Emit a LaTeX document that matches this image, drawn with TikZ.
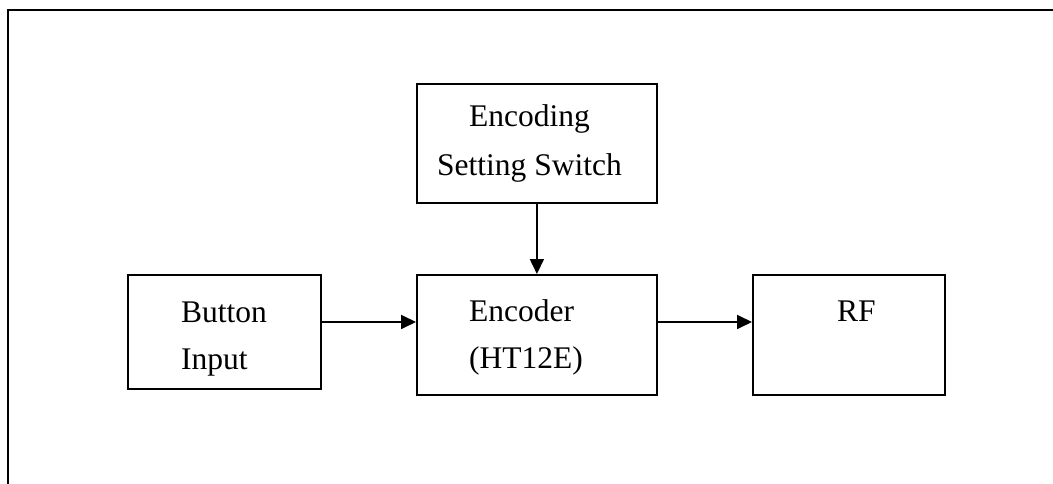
\documentclass[tikz,border=0pt]{standalone}
\usepackage{fontspec}
\setmainfont{Liberation Serif}
\usetikzlibrary{arrows.meta}
\begin{document}
\begin{tikzpicture}[x=1pt,y=-1pt,
  blk/.style={draw, line width=1.8pt, anchor=north west, inner sep=0pt},
  lbl/.style={anchor=base west, inner sep=0pt, font=\fontsize{31.5}{47}\selectfont},
  arr/.style={line width=1.8pt, -{Triangle[length=15pt,width=14pt]}}]
\useasboundingbox (0,0) rectangle (1053,484);
\draw[line width=2.4pt] (8,484) -- (8,10) -- (1053,10);
% boxes
\node[blk, minimum width=240pt, minimum height=119pt] (sw) at (416,83) {};
\node[blk, minimum width=193pt, minimum height=114pt] (btn) at (127,274) {};
\node[blk, minimum width=240pt, minimum height=120pt] (enc) at (416,274) {};
\node[blk, minimum width=192pt, minimum height=120pt] (rf) at (752,274) {};
% texts
\node[lbl] (t1) at (469,127) {Encoding};
\node[lbl] (t2) at (437,176) {Setting Switch};
\node[lbl] (t3) at (181,322) {Button};
\node[lbl] (t4) at (181,369) {Input};
\node[lbl] (t5) at (469,321) {Encoder};
\node[lbl] (t6) at (469,368) {(HT12E)};
\node[lbl] (t7) at (837,321) {RF};
% connectors
\draw[arr] (sw.south) -- (enc.north);
\draw[arr] (btn.east |- 0,322) -- (enc.west |- 0,322);
\draw[arr] (enc.east |- 0,322) -- (rf.west |- 0,322);
\end{tikzpicture}
\end{document}
